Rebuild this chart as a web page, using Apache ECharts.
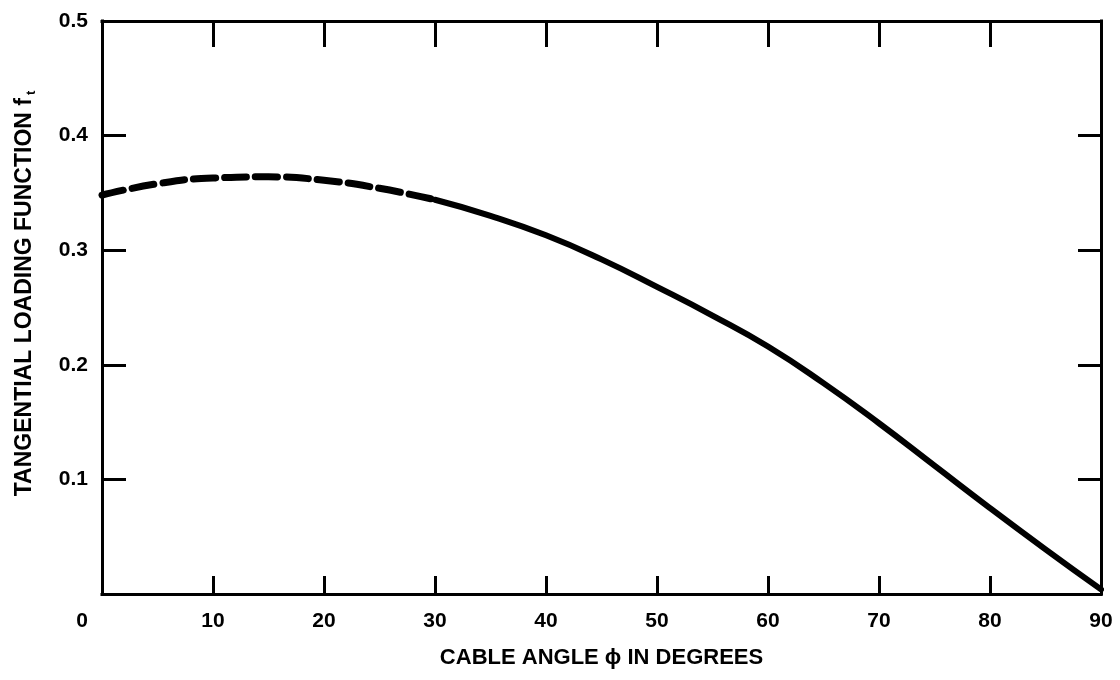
<!DOCTYPE html>
<html>
<head>
<meta charset="utf-8">
<style>
  html, body { margin: 0; padding: 0; background: #fff; }
  #chart { width: 1120px; height: 680px; }
</style>
<script src="https://cdn.jsdelivr.net/npm/echarts@6/dist/echarts.min.js"></script>
</head>
<body>
<div id="chart"></div>
<script>
// Tangential loading function f_t versus cable angle (degrees)
const dashedAngles = [0, 5, 10, 15, 20, 25, 30];
const dashedValues = [0.348, 0.358, 0.363, 0.364, 0.361, 0.354, 0.344];
const solidAngles = [30, 35, 40, 45, 50, 55, 60, 65, 70, 75, 80, 85, 90];
const solidValues = [0.344, 0.330, 0.313, 0.292, 0.268, 0.243, 0.216, 0.184, 0.149, 0.112, 0.075, 0.039, 0.004];
const xTicks = [0, 10, 20, 30, 40, 50, 60, 70, 80, 90];
const yTicks = [0.1, 0.2, 0.3, 0.4, 0.5];

const FONT = '"Liberation Sans", Arial, sans-serif';
const INK = '#000';

const pairs = (xs, ys) => xs.map((x, i) => [x, ys[i]]);

const chart = echarts.init(document.getElementById('chart'), null, { renderer: 'canvas' });

function frameAxis(kind, position, tickLen) {
  const isX = kind === 'x';
  return {
    type: 'value',
    position: position,
    min: 0,
    max: isX ? 90 : 0.5,
    interval: isX ? 10 : 0.1,
    splitLine: { show: false },
    axisLine: { show: true, onZero: false, lineStyle: { color: INK, width: 3, cap: 'square' } },
    axisTick: { show: true, inside: true, length: tickLen, lineStyle: { color: INK, width: 3 } },
    axisLabel: { show: false }
  };
}

const xBottom = Object.assign(frameAxis('x', 'bottom', 18), {
  axisLabel: {
    show: true, margin: 17, color: INK, fontFamily: FONT, fontWeight: 'bold', fontSize: 21,
    formatter: v => (xTicks.indexOf(v) === 0 ? '{o|0}' : String(v)),
    rich: { o: { padding: [0, 40, 0, 0], color: INK, fontFamily: FONT, fontWeight: 'bold', fontSize: 21 } }
  },
  name: 'CABLE ANGLE \u03D5 IN DEGREES',
  nameLocation: 'middle', nameGap: 53,
  nameTextStyle: { color: INK, fontFamily: FONT, fontWeight: 'bold', fontSize: 22 }
});

const yLeft = Object.assign(frameAxis('y', 'left', 24), {
  axisLabel: {
    show: true, margin: 14, color: INK, fontFamily: FONT, fontWeight: 'bold', fontSize: 21,
    formatter: v => (yTicks.some(t => Math.abs(t - v) < 1e-9) ? v.toFixed(1) : '')
  },
  name: 'TANGENTIAL LOADING FUNCTION f{s|t}',
  nameLocation: 'middle', nameGap: 64, nameRotate: 90,
  nameTextStyle: {
    color: INK, fontFamily: FONT, fontWeight: 'bold', fontSize: 23,
    padding: [0, 0, 0, 28],
    rich: { s: { color: INK, fontFamily: FONT, fontWeight: 'bold', fontSize: 13, verticalAlign: 'bottom', padding: [13, 0, 0, 3] } }
  }
});

chart.setOption({
  animation: false,
  backgroundColor: '#fff',
  grid: { left: 102, right: 19, top: 21, bottom: 86 },
  xAxis: [xBottom, frameAxis('x', 'top', 26)],
  yAxis: [yLeft, frameAxis('y', 'right', 23)],
  series: [
    {
      type: 'line', xAxisIndex: 0, yAxisIndex: 0,
      data: pairs(dashedAngles, dashedValues),
      smooth: true, symbol: 'none',
      lineStyle: { color: INK, width: 7, type: [22, 9], cap: 'round' }
    },
    {
      type: 'line', xAxisIndex: 0, yAxisIndex: 0,
      data: pairs(solidAngles, solidValues),
      smooth: true, symbol: 'none',
      lineStyle: { color: INK, width: 6, cap: 'round' }
    }
  ]
});
</script>
</body>
</html>
